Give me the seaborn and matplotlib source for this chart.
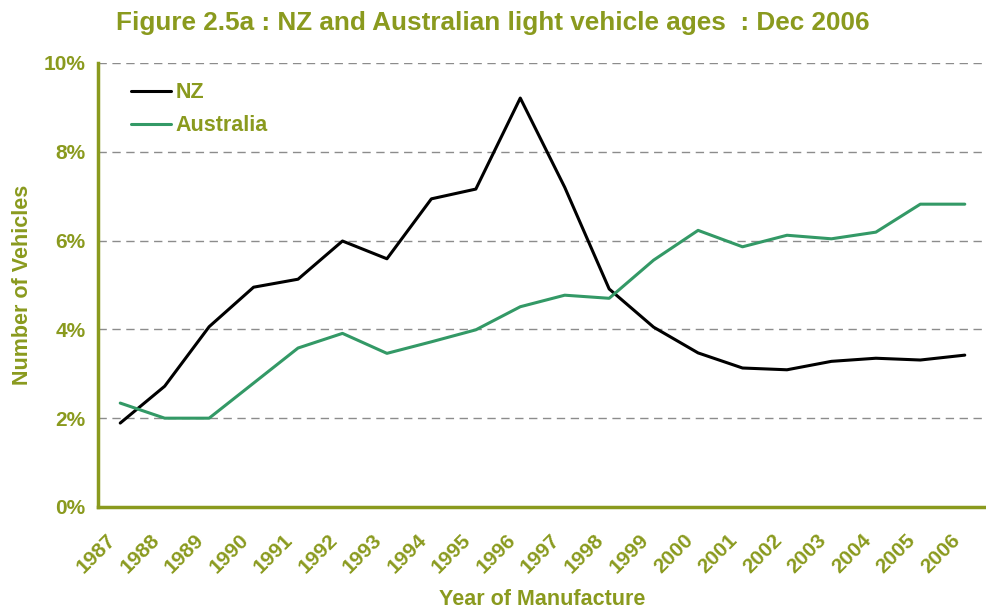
import numpy as np
import pandas as pd
import matplotlib.pyplot as plt
import matplotlib.transforms as mtransforms
from matplotlib.ticker import FixedLocator, PercentFormatter
import seaborn as sns

# Data
years = [str(y) for y in range(1987, 2007)]
nz = [1.89, 2.72, 4.06, 4.95, 5.13, 5.99, 5.59, 6.94, 7.16, 9.21,
      7.20, 4.91, 4.05, 3.47, 3.13, 3.09, 3.28, 3.35, 3.31, 3.42]
australia = [2.34, 2.00, 2.00, 2.79, 3.58, 3.91, 3.46, 3.72, 3.99, 4.51,
             4.77, 4.70, 5.56, 6.23, 5.86, 6.12, 6.04, 6.19, 6.82, 6.82]

olive = "#8A9A1E"
green = "#339966"

df = pd.DataFrame({
    "pos": list(range(len(years))) * 2,
    "value": nz + australia,
    "country": ["NZ"] * len(years) + ["Australia"] * len(years),
})

sns.set_style("white")
plt.rcParams["font.family"] = ["Liberation Sans", "DejaVu Sans"]
plt.rcParams["font.weight"] = "bold"

fig = plt.figure(figsize=(9.87, 6.12), dpi=100)
ax = fig.add_axes([0.0993, 0.1716, 0.9007, 0.7255])

sns.lineplot(data=df, x="pos", y="value", hue="country",
             palette={"NZ": "black", "Australia": green},
             linewidth=2.2, ax=ax)

ax.set_xlim(-0.5, len(years) - 0.5)
ax.set_ylim(0, 10)
ax.yaxis.set_major_locator(FixedLocator([0, 2, 4, 6, 8, 10]))
ax.yaxis.set_major_formatter(PercentFormatter(decimals=0))
for v in [2, 4, 6, 8, 10]:
    ax.axhline(v, color="#8c8c8c", lw=1, ls=(0, (6, 4)), zorder=0)

ax.set_xticks(range(len(years)))
ax.set_xticklabels(years, rotation=45, ha="right", va="center",
                   rotation_mode="anchor")
ax.set_xticks(np.arange(-0.5, len(years), 1), minor=True)
ax.tick_params(axis="x", which="major", length=0, pad=22,
               labelsize=15, labelcolor=olive)
ax.tick_params(axis="x", which="minor", length=6, width=2.5,
               color=olive, direction="out")
ax.tick_params(axis="y", length=5, width=2.5, color=olive,
               labelsize=15, labelcolor=olive, pad=4)
shift = mtransforms.ScaledTranslation(-8 / 100, 0, fig.dpi_scale_trans)
for lbl in ax.get_xticklabels():
    lbl.set_transform(lbl.get_transform() + shift)

for s in ["top", "right"]:
    ax.spines[s].set_visible(False)
for s in ["left", "bottom"]:
    ax.spines[s].set_color(olive)
    ax.spines[s].set_linewidth(2.5)

ax.set_xlabel("")
ax.set_ylabel("Number of Vehicles", color=olive, fontsize=15.5,
              fontweight="bold", labelpad=8)
fig.text(0.549, 0.021, "Year of Manufacture", ha="center", va="center",
         color=olive, fontsize=15.5, fontweight="bold")

leg = ax.legend(loc="upper left", bbox_to_anchor=(0.015, 1.0), frameon=False,
                handlelength=1.85, handletextpad=0.25, labelspacing=0.55,
                fontsize=15.5)
for t in leg.get_texts():
    t.set_color(olive)
    t.set_fontweight("bold")

fig.text(0.499, 0.963, "Figure 2.5a : NZ and Australian light vehicle ages  : Dec 2006",
         ha="center", va="center", color=olive, fontsize=18.8, fontweight="bold")

fig.savefig("out.png", dpi=100)
